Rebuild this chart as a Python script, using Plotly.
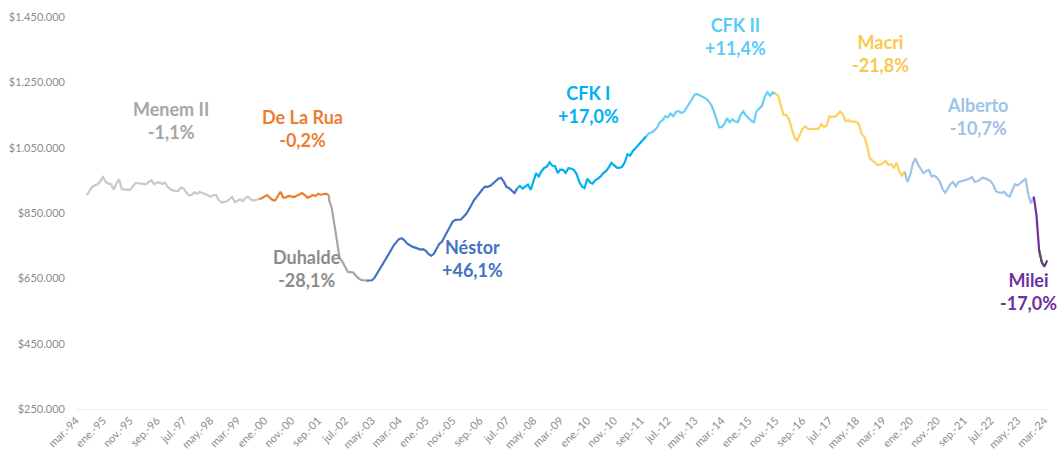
import pandas as pd
import plotly.graph_objects as go

# Monthly real wage (thousands of pesos), one list per presidency
menem_ii = [905, 918, 930, 935, 938, 948, 960, 945, 940, 938, 922, 940, 953, 923, 922, 921, 920,
            930, 941, 941, 940, 941, 938, 946, 950, 938, 943, 944, 939, 943, 930, 923, 919, 918,
            918, 928, 925, 912, 904, 906, 913, 909, 915, 910, 909, 904, 900, 904, 905, 890, 882,
            884, 885, 892, 899, 883, 888, 892, 886, 897, 900, 891, 888, 890, 893]
de_la_rua = [895, 900, 905, 897, 890, 888, 900, 915, 897, 898, 902, 900, 899, 903, 908, 911, 905,
             897, 900, 905, 902, 909, 906, 907, 909, 903]
duhalde = [890, 865, 815, 763, 712, 701, 684, 670, 669, 668, 658, 650, 645, 643, 643]
nestor = [644, 652, 665, 680, 693, 707, 720, 735, 750, 762, 770, 773, 767, 757, 751, 747, 744,
          740, 738, 739, 734, 724, 719, 725, 742, 755, 762, 778, 793, 810, 824, 829, 829, 830,
          838, 847, 860, 875, 890, 900, 912, 922, 931, 930, 933, 940, 946, 955, 958, 946, 930,
          926, 918, 911, 926]
cfk_i = [933, 925, 930, 937, 921, 946, 972, 962, 978, 988, 992, 1005, 995, 993, 972, 983, 982,
         973, 987, 986, 982, 970, 946, 931, 926, 955, 944, 940, 950, 955, 962, 972, 978, 990,
         1003, 996, 989, 988, 992, 1005, 1030, 1026, 1040, 1048, 1057, 1066, 1074, 1086]
cfk_ii = [1094, 1097, 1103, 1112, 1128, 1134, 1146, 1143, 1154, 1146, 1160, 1162, 1156, 1160,
          1172, 1186, 1199, 1213, 1214, 1209, 1205, 1201, 1193, 1182, 1163, 1140, 1112, 1113,
          1122, 1140, 1128, 1137, 1130, 1128, 1150, 1161, 1148, 1140, 1132, 1128, 1162, 1170,
          1178, 1205, 1220, 1209, 1219, 1215]
macri = [1210, 1178, 1150, 1150, 1137, 1110, 1082, 1070, 1090, 1108, 1115, 1108, 1107, 1107,
         1107, 1108, 1122, 1113, 1117, 1146, 1144, 1145, 1150, 1161, 1152, 1130, 1134, 1130,
         1130, 1129, 1122, 1092, 1084, 1057, 1018, 1010, 1003, 997, 999, 1002, 1010, 997, 1000,
         987, 1004, 978, 964, 977]
alberto = [945, 965, 1000, 1018, 998, 985, 972, 978, 982, 962, 964, 958, 946, 925, 912, 924,
           938, 945, 932, 944, 947, 949, 951, 955, 960, 945, 947, 953, 958, 956, 952, 948, 935,
           916, 913, 912, 915, 905, 900, 916, 938, 934, 940, 948, 955, 905, 880, 900]
milei = [845, 735, 698, 686, 705]

seg_names = ["Menem II", "De La Rua", "Duhalde", "Néstor", "CFK I", "CFK II", "Macri", "Alberto", "Milei"]
seg_starts = ["1994-07-01", "1999-12-01", "2002-01-01", "2003-05-01", "2007-12-01",
              "2011-12-01", "2015-12-01", "2019-12-01", "2023-12-01"]
seg_values = [menem_ii, de_la_rua, duhalde, nestor, cfk_i, cfk_ii, macri, alberto, milei]
seg_changes = ["-1,1%", "-0,2%", "-28,1%", "+46,1%", "+17,0%", "+11,4%", "-21,8%", "-10,7%", "-17,0%"]

x_tick_labels = ["mar.-94", "ene.-95", "nov.-95", "sep.-96", "jul.-97", "may.-98", "mar.-99",
                 "ene.-00", "nov.-00", "sep.-01", "jul.-02", "may.-03", "mar.-04", "ene.-05",
                 "nov.-05", "sep.-06", "jul.-07", "may.-08", "mar.-09", "ene.-10", "nov.-10",
                 "sep.-11", "jul.-12", "may.-13", "mar.-14", "ene.-15", "nov.-15", "sep.-16",
                 "jul.-17", "may.-18", "mar.-19", "ene.-20", "nov.-20", "sep.-21", "jul.-22",
                 "may.-23", "mar.-24"]
y_tick_values = [250000, 450000, 650000, 850000, 1050000, 1250000, 1450000]
y_tick_labels = ["$250.000", "$450.000", "$650.000", "$850.000", "$1.050.000", "$1.250.000",
                 "$1.450.000"]

# styles
line_colors = ["#c9c9c9", "#ed7d31", "#a6a6a6", "#4472c4", "#00b0f0", "#66cff7", "#fdd060",
               "#9dc3e6", "#7030a0"]
label_colors = ["#a6a6a6", "#ed7d31", "#8c8c8c", "#4472c4", "#00b0f0", "#5ccbf5", "#f9c84f",
                "#9dc3e6", "#7030a0"]
# label centres in screen pixels
label_px = [(171, 120), (302, 128), (307, 268), (472, 258), (588, 104), (735, 37), (880, 54),
            (977, 117), (1028, 291)]

# plot area in screen pixels
W, H = 1061, 454
L, R, T, B = 76, 1048, 17, 409

fig = go.Figure()
prev_x = prev_y = None
milei_dates = milei_ys = None
for name, start, vals, color in zip(seg_names, seg_starts, seg_values, line_colors):
    dates = list(pd.date_range(start, periods=len(vals), freq="MS"))
    ys = [v * 1000 for v in vals]
    if name == "Milei":
        milei_dates, milei_ys = dates, ys
    xs, yv = dates, ys
    if prev_x is not None:
        xs = [prev_x] + dates
        yv = [prev_y] + ys
    fig.add_trace(go.Scatter(x=xs, y=yv, mode="lines", name=name, showlegend=False,
                             line=dict(color=color, width=2.2)))
    prev_x, prev_y = dates[-1], ys[-1]

# dark stroke on the last months of the Milei segment
fig.add_trace(go.Scatter(x=milei_dates[1:4], y=milei_ys[1:4], mode="lines", showlegend=False,
                         line=dict(color="#555555", width=2)))

annotations = []
for name, chg, col, (px, py) in zip(seg_names, seg_changes, label_colors, label_px):
    annotations.append(dict(
        x=(px - L) / (R - L), y=(B - py) / (B - T), xref="paper", yref="paper",
        text=f"<b>{name}</b><br><b>{chg}</b>", showarrow=False, align="center",
        xanchor="center", yanchor="middle",
        font=dict(family="Lato", size=18, color=col)))

fig.update_layout(
    width=W, height=H,
    margin=dict(l=L, r=W - R, t=T, b=H - B, pad=0),
    plot_bgcolor="white", paper_bgcolor="white",
    font=dict(family="Lato", color="#8c8c8c"),
    annotations=annotations,
    xaxis=dict(type="date", range=["1994-03-01", "2024-04-10"],
               tickmode="array",
               tickvals=list(pd.date_range("1994-03-01", periods=len(x_tick_labels), freq="10MS")),
               ticktext=x_tick_labels, tickangle=-45,
               tickfont=dict(family="Lato", size=11, color="#8c8c8c"),
               showgrid=False, zeroline=False, showline=True, linecolor="#eeeeee", linewidth=1,
               ticks="", automargin=False),
    yaxis=dict(range=[250000, 1450000], tickmode="array", tickvals=y_tick_values,
               ticktext=y_tick_labels,
               tickfont=dict(family="Lato", size=11, color="#8c8c8c"),
               showgrid=False, zeroline=False, showline=False, ticks="",
               ticklabelstandoff=10, automargin=False),
)

fig.write_html("out.html", config={"displayModeBar": False},
               post_script="document.body.style.margin='0';document.body.style.overflow='hidden';")
